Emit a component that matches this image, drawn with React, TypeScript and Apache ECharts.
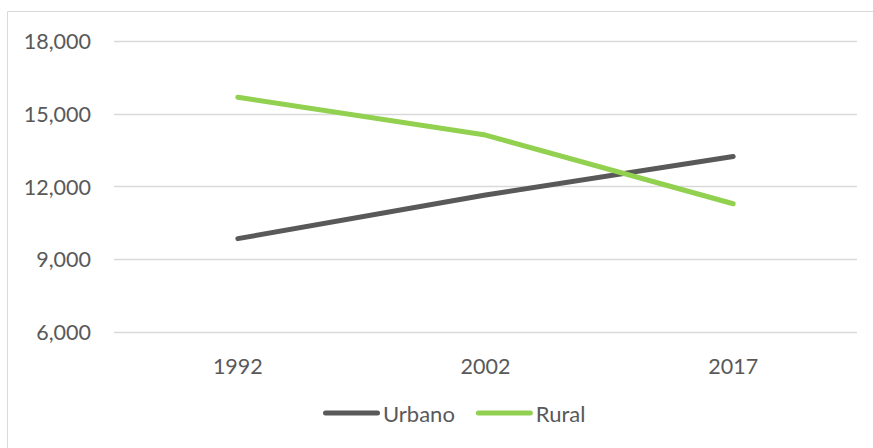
import React, { useEffect, useRef } from "react";
import * as echarts from "echarts";

const categories = ["1992", "2002", "2017"];
const urbano = [9850, 11650, 13240];
const rural = [15680, 14120, 11290];
const yMin = 6000;
const yMax = 18000;
const yInterval = 3000;

export default function App() {
  const ref = useRef<HTMLDivElement>(null);
  useEffect(() => {
    if (!ref.current) return;
    const chart = echarts.init(ref.current, undefined, { renderer: "svg" });
    const font = "Lato, 'Open Sans', sans-serif";
    const iconPath = "path://M2.5,0 H54.5 A2.5,2.5 0 0 1 54.5,5 H2.5 A2.5,2.5 0 0 1 2.5,0 Z";
    chart.setOption({
      animation: false,
      backgroundColor: "#ffffff",
      graphic: [
        {
          type: "rect",
          z: -1,
          silent: true,
          shape: { x: 7.5, y: 11.5, width: 900, height: 500 },
          style: { fill: "none", stroke: "#D9D9D9", lineWidth: 1 },
        },
      ],
      grid: { left: 114, right: 16, top: 41, bottom: 116, containLabel: false },
      legend: {
        bottom: 19,
        left: 318,
        itemWidth: 57,
        itemHeight: 5,
        itemGap: 21,
        icon: iconPath,
        textStyle: { color: "#595959", fontSize: 22, fontFamily: font, padding: [0, 0, 0, -2] },
        data: ["Urbano", "Rural"],
      },
      xAxis: {
        type: "category",
        data: categories,
        boundaryGap: true,
        axisLine: { show: false },
        axisTick: { show: false },
        axisLabel: { color: "#595959", fontSize: 21.5, fontFamily: font, margin: 23 },
        splitLine: { show: false },
      },
      yAxis: {
        type: "value",
        min: yMin,
        max: yMax,
        interval: yInterval,
        axisLine: { show: false },
        axisTick: { show: false },
        axisLabel: {
          color: "#595959",
          fontSize: 21.5,
          fontFamily: font,
          margin: 23,
          formatter: (v: number) => v.toLocaleString("en-US"),
        },
        splitLine: { lineStyle: { color: "#D9D9D9", width: 1.3 } },
      },
      series: [
        {
          name: "Urbano",
          type: "line",
          data: urbano,
          symbol: "none",
          lineStyle: { color: "#595959", width: 5, cap: "round", join: "round" },
          itemStyle: { color: "#595959" },
        },
        {
          name: "Rural",
          type: "line",
          data: rural,
          symbol: "none",
          lineStyle: { color: "#92D050", width: 5, cap: "round", join: "round" },
          itemStyle: { color: "#92D050" },
        },
      ],
    });
    return () => chart.dispose();
  }, []);
  return (
    <div
      ref={ref}
      style={{ position: "absolute", left: 0, top: 0, width: 873, height: 448 }}
    />
  );
}
